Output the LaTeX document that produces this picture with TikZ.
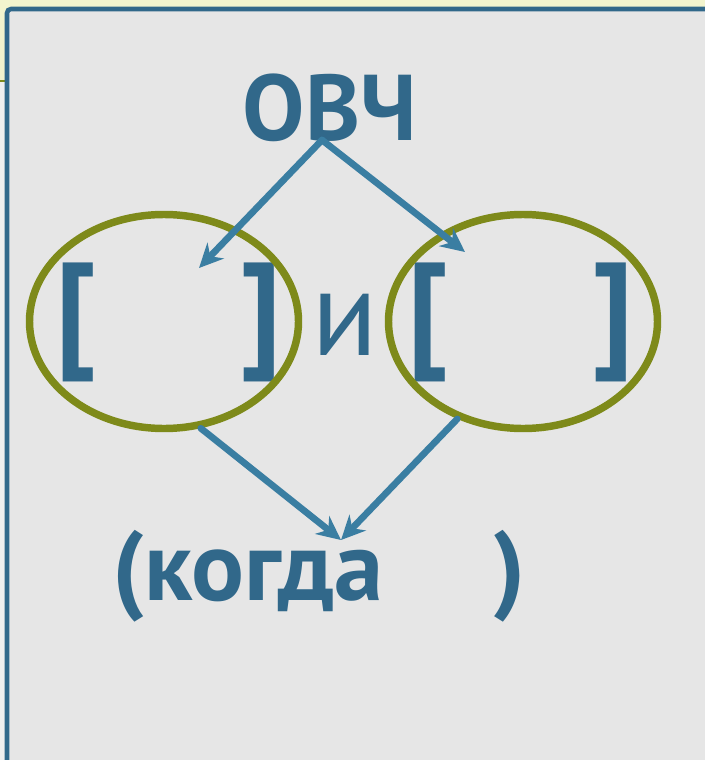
\documentclass[tikz,border=0pt]{standalone}
\usepackage{fontspec}
\setmainfont{PT Sans}
\usetikzlibrary{shapes.geometric,arrows.meta}

\tikzset{every picture/.style={line width=0.75pt}}
\tikzset{
  ring/.style={draw={rgb, 255:red, 126; green, 138; blue, 26 }, line width=5.6pt, ellipse, inner sep=0pt, minimum width=201.75pt, minimum height=160.5pt},
  pointer/.style={draw={rgb, 255:red, 58; green, 126; blue, 162 }, line width=5pt, line cap=round, -{Stealth[length=18pt,width=17pt]}},
  word/.style={text={rgb, 255:red, 49; green, 104; blue, 138 }, inner sep=0pt}
}

\begin{document}
\begin{tikzpicture}[x=0.75pt,y=0.75pt,yscale=-1,xscale=1]
\useasboundingbox (0,0) rectangle (705,760);

%Shape: Rectangle [slide band]
\fill [color={rgb, 255:red, 242; green, 244; blue, 206 }] (0,0) rectangle (705,760);
\fill [color={rgb, 255:red, 238; green, 238; blue, 238 }] (0,81) rectangle (7,760);
\draw [color={rgb, 255:red, 126; green, 138; blue, 26 }, line width=1.5pt] (0,81) -- (7,81);
%Shape: Rectangle [panel]
\draw [draw={rgb, 255:red, 49; green, 104; blue, 138 }, fill={rgb, 255:red, 230; green, 230; blue, 230 }, line width=3.4pt, rounded corners=3pt] (7,9) -- (730,9) -- (730,790) -- (7,790) -- cycle ;

% Text Node
\node [word, anchor=base, font=\bfseries\fontsize{70}{70}\selectfont] (ovch) at (330,140) {ОВЧ};
% Text Node
\node [word, font=\bfseries\fontsize{96}{96}\selectfont] (lopen) at (76,322) {[};
\node [word, font=\bfseries\fontsize{96}{96}\selectfont] (lclose) at (261,322) {]};
\node [word, anchor=base, font=\fontsize{92}{92}\selectfont] (conj) at (345,355) {и};
\node [word, font=\bfseries\fontsize{96}{96}\selectfont] (ropen) at (428,322) {[};
\node [word, font=\bfseries\fontsize{96}{96}\selectfont] (rclose) at (613,322) {]};
% Text Node
\node [word, anchor=base west, font=\bfseries\fontsize{74}{74}\selectfont] (when) at (112,600) {(когда};
\node [word, anchor=base, font=\bfseries\fontsize{74}{74}\selectfont] (wclose) at (510,600) {)};

%Shape: Ellipse [left]
\node [ring] (lring) at (164,321.5) {};
%Shape: Ellipse [right]
\node [ring] (rring) at (523,321.5) {};

\coordinate (ltip) at (199,268);
\coordinate (rtip) at (465,252);
\coordinate (ktip) at (341,540);

%Straight Lines [arrows]
\draw [pointer] ([xshift=-6pt]ovch.base) -- (ltip);
\draw [pointer] ([xshift=-6pt]ovch.base) -- (rtip);
\draw [pointer] (lring.-71) -- (ktip);
\draw [pointer] (rring.-124) -- (ktip);

\end{tikzpicture}
\end{document}
